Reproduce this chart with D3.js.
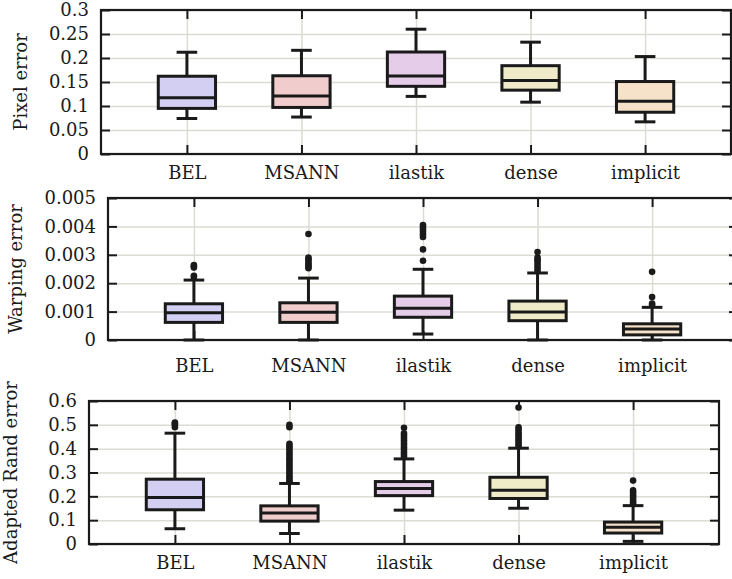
<!DOCTYPE html>
<html>
<head>
<meta charset="utf-8">
<script src="https://cdn.jsdelivr.net/npm/d3@7"></script>
<style>
  body { margin: 0; background: #fff; }
  svg { display: block; }
</style>
</head>
<body>
<div id="container"></div>
<script>
//-----------------------------DATA------------------------------//
var categories = ["BEL", "MSANN", "ilastik", "dense", "implicit"];
var boxColors = ["#d3cff2", "#f1cccc", "#e5cce8", "#efebc8", "#f6e2c8"];

// [low whisker, q1, median, q3, high whisker]
var pixelStats = [
    [0.074, 0.095, 0.117, 0.162, 0.212],
    [0.077, 0.097, 0.121, 0.163, 0.216],
    [0.120, 0.141, 0.1625, 0.2125, 0.260],
    [0.108, 0.133, 0.153, 0.184, 0.233],
    [0.067, 0.087, 0.110, 0.151, 0.203]
];
var pixelOutliers = [[], [], [], [], []];
var pixelTicks = [0, 0.05, 0.1, 0.15, 0.2, 0.25, 0.3];
var pixelTickLabels = ["0", "0.05", "0.1", "0.15", "0.2", "0.25", "0.3"];

var warpStats = [
    [0, 0.00062, 0.00096, 0.001275, 0.00211],
    [0, 0.00062, 0.00098, 0.00131, 0.00218],
    [0.00021, 0.0008, 0.00112, 0.001545, 0.00249],
    [0, 0.00068, 0.00099, 0.00137, 0.00236],
    [0, 0.00018, 0.00039, 0.00057, 0.00115]
];
var warpOutliers = [
    [0.00222, 0.00226, 0.00255, 0.0026, 0.00264],
    [0.00253, 0.00258, 0.00264, 0.0027, 0.00278, 0.00285, 0.0029, 0.00373],
    [0.00279, 0.00319, 0.00363, 0.00372, 0.00381, 0.0039, 0.00398, 0.00405],
    [0.00246, 0.00255, 0.00265, 0.00275, 0.00283, 0.0029, 0.0031],
    [0.00123, 0.00128, 0.00151, 0.0024]
];
var warpTicks = [0, 0.001, 0.002, 0.003, 0.004, 0.005];
var warpTickLabels = ["0", "0.001", "0.002", "0.003", "0.004", "0.005"];

var randStats = [
    [0.064, 0.1436, 0.195, 0.272, 0.465],
    [0.044, 0.096, 0.13, 0.16, 0.254],
    [0.142, 0.203, 0.233, 0.262, 0.357],
    [0.15, 0.191, 0.226, 0.28, 0.402],
    [0.011, 0.046, 0.07, 0.092, 0.161]
];
var randOutliers = [
    [0.49, 0.5, 0.505, 0.51],
    [0.262, 0.27, 0.28, 0.29, 0.3, 0.31, 0.32, 0.33, 0.34, 0.35, 0.36, 0.37, 0.38, 0.39, 0.4, 0.41, 0.42, 0.49, 0.5],
    [0.365, 0.375, 0.385, 0.395, 0.405, 0.415, 0.425, 0.435, 0.445, 0.455, 0.465, 0.488],
    [0.41, 0.42, 0.43, 0.44, 0.45, 0.46, 0.47, 0.48, 0.49, 0.573],
    [0.168, 0.175, 0.185, 0.195, 0.205, 0.215, 0.225, 0.266]
];
var randTicks = [0, 0.1, 0.2, 0.3, 0.4, 0.5, 0.6];
var randTickLabels = ["0", "0.1", "0.2", "0.3", "0.4", "0.5", "0.6"];

//-----------------------------SETUP-----------------------------//
var width = 732;
var height = 579;
var ink = "#1a1a1a";
var font = "DejaVu Serif";

var svg = d3.select("div#container").append("svg")
    .attr("width", width)
    .attr("height", height);

svg.append("rect")
    .attr("width", width)
    .attr("height", height)
    .attr("fill", "#fff");

var panels = [
    { label: "Pixel error", stats: pixelStats, outliers: pixelOutliers, ticks: pixelTicks, tickLabels: pixelTickLabels,
      left: 101, top: 10, w: 630, h: 144, labelX: 27, xPad: 12 },
    { label: "Warping error", stats: warpStats, outliers: warpOutliers, ticks: warpTicks, tickLabels: warpTickLabels,
      left: 108, top: 198, w: 630, h: 142, labelX: 22, xPad: 19 },
    { label: "Adapted Rand error", stats: randStats, outliers: randOutliers, ticks: randTicks, tickLabels: randTickLabels,
      left: 89, top: 401, w: 630, h: 143, labelX: 17, xPad: 12 }
];

function styleText(sel) {
    sel.attr("font-family", font)
        .style("font-family", font)
        .style("font-size", "18px")
        .attr("fill", ink);
}

//-------------------------2. DRAWING----------------------------//
panels.forEach(function (p) {
    var g = svg.append("g")
        .attr("transform", "translate(" + p.left + "," + p.top + ")");

    var xScale = d3.scalePoint()
        .domain(categories)
        .range([0, p.w])
        .padding(0.75);

    var yScale = d3.scaleLinear()
        .domain([p.ticks[0], p.ticks[p.ticks.length - 1]])
        .range([p.h, 0]);

    var step = xScale.step();
    var boxW = step * 0.5;
    var capW = step * 0.18;

    // grid
    g.append("g")
        .attr("class", "grid")
        .call(d3.axisLeft(yScale).tickValues(p.ticks).tickSize(-p.w).tickFormat(""))
        .call(function (a) { a.select(".domain").remove(); })
        .selectAll("line")
        .attr("stroke", "#dcdcd5")
        .attr("stroke-width", 1.5);

    g.append("g")
        .attr("class", "grid")
        .call(d3.axisBottom(xScale).tickSize(p.h).tickFormat(""))
        .call(function (a) { a.select(".domain").remove(); })
        .selectAll("line")
        .attr("stroke", "#dcdcd5")
        .attr("stroke-width", 1.5);

    // axes with inward ticks
    var yLeft = g.append("g")
        .attr("class", "axis")
        .call(d3.axisLeft(yScale).tickValues(p.ticks).tickSizeInner(-9).tickSizeOuter(0).tickPadding(12)
            .tickFormat(function (d, i) { return p.tickLabels[i]; }));
    yLeft.selectAll("text").call(styleText);

    g.append("g")
        .attr("class", "axis")
        .attr("transform", "translate(" + p.w + ",0)")
        .call(d3.axisRight(yScale).tickValues(p.ticks).tickSizeInner(-9).tickSizeOuter(0).tickFormat(""));

    g.append("g")
        .attr("class", "axis")
        .call(d3.axisTop(xScale).tickSizeInner(-9).tickSizeOuter(0).tickFormat(""));

    var xBottom = g.append("g")
        .attr("class", "axis")
        .attr("transform", "translate(0," + p.h + ")")
        .call(d3.axisBottom(xScale).tickSizeInner(-9).tickSizeOuter(0).tickPadding(p.xPad));
    xBottom.selectAll("text").call(styleText);

    g.selectAll(".axis").attr("font-family", font);
    g.selectAll(".domain").attr("stroke", "none");
    g.selectAll(".axis .tick line")
        .attr("stroke", ink)
        .attr("stroke-width", 2);

    // frame
    g.append("rect")
        .attr("width", p.w)
        .attr("height", p.h)
        .attr("fill", "none")
        .attr("stroke", ink)
        .attr("stroke-width", 2.2);

    //----------------------------BOXES------------------------------//
    var boxes = g.selectAll(".box")
        .data(p.stats)
        .enter().append("g")
        .attr("class", "box")
        .attr("transform", function (d, i) { return "translate(" + xScale(categories[i]) + ",0)"; });

    boxes.append("line")
        .attr("y1", function (d) { return yScale(d[0]); })
        .attr("y2", function (d) { return yScale(d[1]); });
    boxes.append("line")
        .attr("y1", function (d) { return yScale(d[3]); })
        .attr("y2", function (d) { return yScale(d[4]); });
    boxes.append("line")
        .attr("x1", -capW / 2).attr("x2", capW / 2)
        .attr("y1", function (d) { return yScale(d[0]); })
        .attr("y2", function (d) { return yScale(d[0]); });
    boxes.append("line")
        .attr("x1", -capW / 2).attr("x2", capW / 2)
        .attr("y1", function (d) { return yScale(d[4]); })
        .attr("y2", function (d) { return yScale(d[4]); });

    boxes.append("rect")
        .attr("x", -boxW / 2)
        .attr("width", boxW)
        .attr("y", function (d) { return yScale(d[3]); })
        .attr("height", function (d) { return yScale(d[1]) - yScale(d[3]); })
        .attr("fill", function (d, i) { return boxColors[i]; })
        .attr("stroke", ink)
        .attr("stroke-width", 3);

    boxes.append("line")
        .attr("x1", -boxW / 2).attr("x2", boxW / 2)
        .attr("y1", function (d) { return yScale(d[2]); })
        .attr("y2", function (d) { return yScale(d[2]); });

    boxes.selectAll("line")
        .attr("stroke", ink)
        .attr("stroke-width", 3);

    //----------------------------OUTLIERS---------------------------//
    boxes.selectAll("circle")
        .data(function (d, i) { return p.outliers[i]; })
        .enter().append("circle")
        .attr("cx", 0)
        .attr("cy", function (v) { return yScale(v); })
        .attr("r", 3.3)
        .attr("fill", ink);

    // y label
    svg.append("text")
        .attr("transform", "translate(" + p.labelX + "," + (p.top + p.h / 2) + ") rotate(-90)")
        .style("text-anchor", "middle")
        .text(p.label)
        .call(styleText);
});
</script>
</body>
</html>
